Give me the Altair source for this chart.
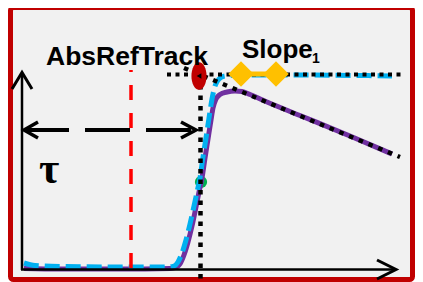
import altair as alt
import pandas as pd

# Schematic units: x = time offset from the origin, y = tau above the baseline
cyan_x = [2, 13, 38, 98, 146, 152, 156, 160, 164, 168, 172, 175, 178, 181, 184, 187, 190, 193, 197, 203, 218, 278, 338, 370]
cyan_y = [6, 3.5, 2.5, 2, 2, 3, 7, 16, 29, 45, 63, 77, 91, 112, 131, 151, 170, 183, 190, 193, 194, 194, 193.5, 193]

purple_x = [2, 38, 98, 148, 154, 158, 162, 166, 170, 174, 177, 180, 183, 186, 189, 191, 194, 198, 205, 213, 220, 228, 245, 278, 328, 370]
purple_y = [0.5, 0, 0, 0.5, 1.5, 5, 14, 27, 43, 62, 77, 91, 111, 130, 149, 161, 170, 174.5, 177, 178, 177.5, 174.5, 167, 153.5, 133, 115]

hdot_x = [145, 383]
hdot_y = [194.5, 194.5]
vdot_x = [178.5, 178.5]
vdot_y = [194.5, -10]
ddot_x = [162, 378]
ddot_y = [201, 112]

ref_x = [109, 109]
ref_y = [1, 199]

span_x = [2, 169]
span_y = [139, 139]
span_left_x = [16, 2, 16]
span_left_y = [147, 139, 131]
span_right_x = [159, 174, 159]
span_right_y = [147, 139, 131]

yaxis_x = [0, 0]
yaxis_y = [-1, 195]
yhead_x = [-10, 0, 10]
yhead_y = [180, 196.5, 180]
xaxis_x = [-1, 372]
xaxis_y = [-0.5, -0.5]
xhead_x = [355, 374, 355]
xhead_y = [9, -0.5, -10]

slope_x = [219, 254]
slope_y = [195, 195]
marker_x = [177]
marker_y = [193]
mid_x = [179]
mid_y = [87]

frame_box = {"x0": [-11.5], "x1": [390.5], "y0": [-10.5], "y1": [261.5]}

labels = ["AbsRefTrack", "Slope", "1", "τ"]
label_x = [24, 220, 290, 17]
label_y = [204, 211.5, 206, 86]

X = alt.Scale(domain=[-14, 393], nice=False, zero=False)
Y = alt.Scale(domain=[-13, 261], nice=False, zero=False)


def enc(ch):
    return ch.encode(
        x=alt.X("x:Q", scale=X, axis=None),
        y=alt.Y("y:Q", scale=Y, axis=None),
    )


def line(xs, ys, **mk):
    df = pd.DataFrame({"x": xs, "y": ys, "o": list(range(len(xs)))})
    return alt.Chart(df).mark_line(**mk).encode(
        x=alt.X("x:Q", scale=X, axis=None),
        y=alt.Y("y:Q", scale=Y, axis=None),
        order="o:Q",
    )


def box(d, **mk):
    return alt.Chart(pd.DataFrame(d)).mark_rect(**mk).encode(
        x=alt.X("x0:Q", scale=X, axis=None), x2="x1",
        y=alt.Y("y0:Q", scale=Y, axis=None), y2="y1",
    )


def pts(xs, ys, **mk):
    return enc(alt.Chart(pd.DataFrame({"x": xs, "y": ys})).mark_point(**mk))


def txt(i, **mk):
    df = pd.DataFrame({"x": [label_x[i]], "y": [label_y[i]], "t": [labels[i]]})
    return alt.Chart(df).mark_text(align="left", baseline="alphabetic", **mk).encode(
        x=alt.X("x:Q", scale=X, axis=None),
        y=alt.Y("y:Q", scale=Y, axis=None),
        text="t:N",
    )


layers = [
    box(frame_box, fill="#f1f1f1", stroke="#c00000", strokeWidth=5, cornerRadius=3),
    pts(mid_x, mid_y, shape="circle", size=150, filled=True, color="#00b050", opacity=1),
    line(purple_x, purple_y, color="#7030a0", strokeWidth=5, interpolate="monotone"),
    line(cyan_x, cyan_y, color="#00b0f0", strokeWidth=5, strokeDash=[15, 6], interpolate="monotone"),
    line(ref_x, ref_y, color="#ff0000", strokeWidth=3.5, strokeDash=[15, 13]),
    line(hdot_x, hdot_y, color="black", strokeWidth=4, strokeDash=[4, 4.5]),
    line(vdot_x, vdot_y, color="black", strokeWidth=4.5, strokeDash=[4.5, 6]),
    line(ddot_x, ddot_y, color="black", strokeWidth=4.5, strokeDash=[4.5, 6]),
    line(span_x, span_y, color="black", strokeWidth=4, strokeDash=[45, 16]),
    line(span_left_x, span_left_y, color="black", strokeWidth=3.5),
    line(span_right_x, span_right_y, color="black", strokeWidth=3.5),
    line(yaxis_x, yaxis_y, color="black", strokeWidth=2.5),
    line(yhead_x, yhead_y, color="black", strokeWidth=3),
    line(xaxis_x, xaxis_y, color="black", strokeWidth=2.5),
    line(xhead_x, xhead_y, color="black", strokeWidth=3),
    line(slope_x, slope_y, color="#ffc000", strokeWidth=5),
    pts(slope_x, slope_y, shape="diamond", size=650, filled=True, color="#ffc000", opacity=1),
    pts(marker_x, marker_y, shape="M0,-1A0.55,1 0 1,1 0,1A0.55,1 0 1,1 0,-1Z", size=760,
        filled=True, color="#c00000", opacity=1),
    pts(marker_x, marker_y, shape="triangle-left", size=30, filled=True, color="black", opacity=1),
    txt(0, font="Liberation Sans", fontSize=26.5, fontWeight="bold", color="black"),
    txt(1, font="Liberation Sans", fontSize=26, fontWeight="bold", color="black"),
    txt(2, font="Liberation Sans", fontSize=14, fontWeight="bold", color="black"),
    txt(3, font="Liberation Serif", fontSize=44, fontWeight="bold", color="black"),
]

chart = alt.layer(*layers).properties(
    width=407, height=274, autosize="none", padding=0, background="white"
).configure_view(stroke=None)

chart.save("out.html", embed_options={"renderer": "svg", "actions": False})
